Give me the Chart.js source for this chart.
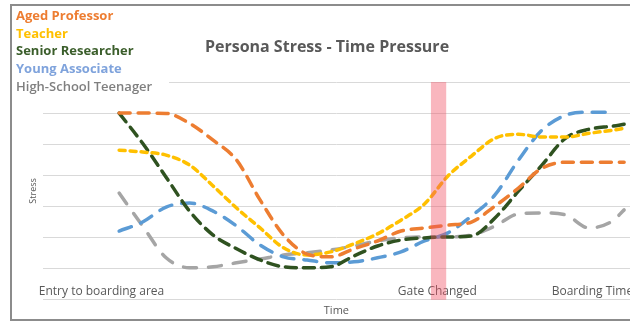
<!DOCTYPE html>
<html>
<head>
<meta charset="utf-8">
<script src="https://cdn.jsdelivr.net/npm/chart.js@4/dist/chart.umd.min.js"></script>
<style>
  html, body { margin: 0; padding: 0; background: #fff; }
  #wrap { width: 630px; height: 322px; }
</style>
</head>
<body>
<div id="wrap"><canvas id="stressChart" width="630" height="322"></canvas></div>
<script>
// Data
var times = [13, 17, 21, 25, 29, 33, 37, 41, 45, 49, 53, 57, 61, 65, 69, 73, 77, 81, 85, 89, 93, 97, 99]
var agedProfessor = [6.0, 6.0, 5.99, 5.67, 5.13, 4.49, 3.21, 2.08, 1.47, 1.38, 1.64, 1.89, 2.21, 2.31, 2.40, 2.50, 3.01, 3.59, 4.23, 4.42, 4.42, 4.42, 4.42]
var teacher = [4.81, 4.75, 4.65, 4.33, 3.66, 2.95, 2.31, 1.67, 1.44, 1.54, 1.80, 2.12, 2.56, 3.08, 3.98, 4.62, 5.19, 5.32, 5.23, 5.23, 5.35, 5.45, 5.51]
var seniorResearcher = [6.0, 5.03, 3.94, 2.85, 2.08, 1.64, 1.28, 1.06, 1.03, 1.06, 1.41, 1.73, 1.92, 1.99, 2.02, 2.05, 2.63, 3.49, 4.33, 5.19, 5.48, 5.58, 5.64]
var youngAssociate = [2.21, 2.50, 2.98, 3.11, 2.85, 2.37, 1.76, 1.38, 1.28, 1.19, 1.22, 1.35, 1.54, 1.89, 2.15, 2.69, 3.37, 4.49, 5.45, 5.93, 6.03, 6.03, null]
var teenager = [3.43, 2.37, 1.35, 1.03, 1.06, 1.19, 1.31, 1.44, 1.51, 1.60, 1.73, 1.89, 1.99, 2.02, 2.02, 2.08, 2.37, 2.76, 2.79, 2.73, 2.31, 2.53, 2.89]

var eventLabels = ["Entry to boarding area", "Gate Changed", "Boarding Time"]
var eventTimes = [10, 67.2, 93.6]
var gateBand = [66.1, 68.7]

function pts(vals) {
    var out = []
    for (let i = 0; i < times.length; i++) {
        out.push({ x: times[i], y: vals[i] })
    }
    return out
}

function line(label, vals, color, dash) {
    return {
        label: label,
        data: pts(vals),
        borderColor: color,
        backgroundColor: color,
        borderWidth: 3.5,
        borderDash: dash,
        borderCapStyle: 'round',
        pointRadius: 0,
        cubicInterpolationMode: 'monotone',
        fill: false
    }
}

var legendColors = ["#ED7D31", "#FFC000", "#3B5E2B", "#7FA3DC", "#7F7F7F"]
var legendWeights = ["bold", "bold", "bold", "bold", "600"]

// Plugin: frame, event labels, gate band, legend
var decor = {
    id: 'decor',
    beforeDraw(chart) {
        var c = chart.ctx
        c.save()
        c.fillStyle = '#fff'
        c.fillRect(0, 0, chart.width, chart.height)
        c.restore()
    },
    beforeDatasetsDraw(chart) {
        var c = chart.ctx
        var x = chart.scales.x, y = chart.scales.y
        c.save()
        c.font = '12px "Open Sans"'
        c.fillStyle = '#595959'
        c.textAlign = 'center'
        c.textBaseline = 'middle'
        for (let i = 0; i < eventLabels.length; i++) {
            c.fillText(eventLabels[i], x.getPixelForValue(eventTimes[i]), y.getPixelForValue(0.27))
        }
        c.restore()
    },
    afterDatasetsDraw(chart) {
        var c = chart.ctx
        var x = chart.scales.x, y = chart.scales.y
        c.save()
        c.fillStyle = 'rgba(240, 80, 100, 0.42)'
        var x0 = x.getPixelForValue(gateBand[0]), x1 = x.getPixelForValue(gateBand[1])
        c.fillRect(x0, y.getPixelForValue(7), x1 - x0, y.getPixelForValue(0) - y.getPixelForValue(7))
        c.restore()
    },
    afterDraw(chart) {
        var c = chart.ctx
        c.save()
        // legend
        c.fillStyle = '#fff'
        c.fillRect(14, 7, 155, 88)
        c.textAlign = 'left'
        c.textBaseline = 'middle'
        var ds = chart.data.datasets
        for (let i = 0; i < ds.length; i++) {
            c.font = legendWeights[i] + ' 13px "Open Sans"'
            c.fillStyle = legendColors[i]
            c.fillText(ds[i].label, 16, 16 + i * 17.8)
        }
        // frame
        c.strokeStyle = '#8c8c8c'
        c.lineWidth = 2
        c.strokeRect(11, 5, 640, 315)
        c.restore()
    }
}

var ctx = document.getElementById('stressChart').getContext('2d')
var myChart = new Chart(ctx, {
    type: 'line',
    data: {
        datasets: [
            line("Aged Professor", agedProfessor, "#ED7D31", [11, 8]),
            line("Teacher", teacher, "#FFC000", [6, 5]),
            line("Senior Researcher", seniorResearcher, "#2F5220", [11, 7]),
            line("Young Associate", youngAssociate, "#5B9BD5", [13, 10]),
            line("High-School Teenager", teenager, "#A5A5A5", [13, 12])
        ]
    },
    plugins: [decor],
    options: {
        responsive: false,
        animation: false,
        layout: { padding: { left: 24, right: 0, top: 0, bottom: 0 } },
        plugins: {
            legend: { display: false },
            tooltip: { enabled: false },
            title: {
                display: true,
                text: 'Persona Stress - Time Pressure',
                color: '#595959',
                font: { family: 'Open Sans', size: 16, weight: 'bold' },
                padding: { top: 38, bottom: 24.8 }
            }
        },
        scales: {
            x: {
                type: 'linear',
                min: 0,
                max: 100,
                grid: { display: false, drawTicks: false },
                border: { display: false },
                ticks: { display: false },
                title: {
                    display: true,
                    text: 'Time',
                    color: '#595959',
                    font: { family: 'Open Sans', size: 11 },
                    padding: { top: 4, bottom: 5 }
                }
            },
            y: {
                min: 0,
                max: 7,
                ticks: { display: false, stepSize: 1 },
                grid: { color: '#d9d9d9', lineWidth: 1, drawTicks: false },
                border: { display: false },
                title: {
                    display: true,
                    text: 'Stress',
                    color: '#595959',
                    font: { family: 'Open Sans', size: 9 },
                    padding: { top: 4, bottom: 4 }
                }
            }
        }
    }
})
</script>
</body>
</html>
